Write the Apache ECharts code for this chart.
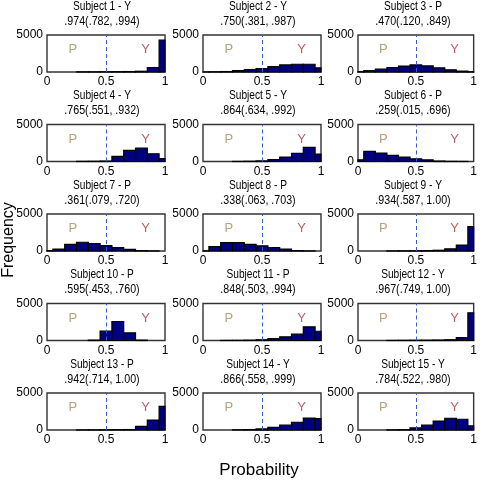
<!DOCTYPE html>
<html>
<head>
<meta charset="utf-8">
<script src="https://cdn.jsdelivr.net/npm/echarts@6/dist/echarts.min.js"></script>
<style>html,body{margin:0;padding:0;background:#fff}#c{width:480px;height:482px}</style>
</head>
<body>
<div id="c"></div>
<script>
const binCenters = [0, 0.1, 0.2, 0.3, 0.4, 0.5, 0.6, 0.7, 0.8, 0.9, 1.0];
const subjectLabels = ['Subject 1 - Y','Subject 2 - Y','Subject 3 - P','Subject 4 - Y','Subject 5 - Y','Subject 6 - P','Subject 7 - P','Subject 8 - P','Subject 9 - Y','Subject 10 - P','Subject 11 - P','Subject 12 - Y','Subject 13 - P','Subject 14 - Y','Subject 15 - Y'];
const intervalLabels = ['.974(.782, .994)','.750(.381, .987)','.470(.120, .849)','.765(.551, .932)','.864(.634, .992)','.259(.015, .696)','.361(.079, .720)','.338(.063, .703)','.934(.587, 1.00)','.595(.453, .760)','.848(.503, .994)','.967(.749, 1.00)','.942(.714, 1.00)','.866(.558, .999)','.784(.522, .980)'];
const counts1  = [0, 0, 0, 20, 20, 30, 40, 60, 100, 600, 4300];
const counts2  = [10, 30, 60, 180, 320, 450, 730, 950, 1050, 1050, 550];
const counts3  = [60, 200, 380, 600, 800, 950, 820, 560, 300, 120, 30];
const counts4  = [0, 0, 0, 20, 30, 60, 700, 1500, 1800, 1050, 400];
const counts5  = [0, 0, 0, 10, 30, 80, 250, 600, 1100, 1900, 1000];
const counts6  = [230, 1360, 1130, 820, 590, 360, 230, 60, 20, 10, 0];
const counts7  = [50, 270, 900, 1180, 1000, 730, 450, 230, 40, 10, 0];
const counts8  = [20, 600, 1150, 1150, 900, 700, 450, 250, 50, 10, 0];
const counts9  = [0, 0, 0, 10, 20, 30, 50, 100, 300, 800, 3300];
const counts10 = [0, 0, 0, 0, 50, 1260, 2570, 1030, 50, 0, 0];
const counts11 = [0, 0, 10, 20, 40, 100, 250, 500, 850, 1850, 1250];
const counts12 = [0, 0, 0, 10, 20, 30, 40, 60, 100, 400, 3750];
const counts13 = [0, 0, 0, 10, 20, 30, 40, 60, 500, 1350, 3200];
const counts14 = [0, 0, 0, 20, 50, 150, 350, 650, 1050, 1600, 1550];
const counts15 = [0, 0, 0, 20, 40, 280, 650, 1210, 1590, 1450, 560];
const allCounts = [counts1,counts2,counts3,counts4,counts5,counts6,counts7,counts8,counts9,counts10,counts11,counts12,counts13,counts14,counts15];
const xTicks = [0, 0.5, 1];
const yTicks = [0, 5000];
const groupLabels = ['P', 'Y'];
const labelPositions = [0.22, 0.835];
const cutoff = 0.5;

const chart = echarts.init(document.getElementById('c'));
const FONT = '"Liberation Sans",Arial,sans-serif';
const colLeft = [47, 203, 358];
const W = 118, H = 37;
const rowTop = [35, 124.5, 214, 303.5, 393];

const grids = [], xAxes = [], yAxes = [], series = [], graphics = [];
allCounts.forEach((counts, i) => {
  const r = Math.floor(i / 3), c = i % 3;
  const left = colLeft[c], top = rowTop[r];
  grids.push({left: left, top: top, width: W, height: H, show: true, borderColor: '#333', borderWidth: 1.4, backgroundColor: '#fff'});
  xAxes.push({type: 'value', gridIndex: i, min: 0, max: 1, interval: 0.5,
    axisLine: {show: false}, axisTick: {show: false}, splitLine: {show: false},
    axisLabel: {margin: 4, color: '#000', fontFamily: FONT, fontSize: 12,
      formatter: v => xTicks.includes(v) ? String(v) : ''}});
  yAxes.push({type: 'value', gridIndex: i, min: 0, max: 5000, interval: 5000,
    axisLine: {show: false}, axisTick: {show: false}, splitLine: {show: false},
    axisLabel: {margin: 4, color: '#000', fontFamily: FONT, fontSize: 12,
      formatter: v => yTicks.includes(v) ? String(v) : ''}});
  const data = binCenters.map((b, k) => [Math.max(0, b - 0.05), Math.min(1, b + 0.05), counts[k]]);
  series.push({
    type: 'custom', xAxisIndex: i, yAxisIndex: i, data: data, silent: true,
    renderItem: function (params, api) {
      const h = api.value(2);
      if (!h) return null;
      const p0 = api.coord([api.value(0), 0]);
      const p1 = api.coord([api.value(1), h]);
      return {type: 'rect', shape: {x: p0[0], y: p1[1], width: p1[0] - p0[0], height: p0[1] - p1[1]},
        style: {fill: '#000080', stroke: '#000', lineWidth: 1.2}};
    },
    markLine: {silent: true, symbol: 'none', label: {show: false},
      lineStyle: {color: '#3a5bd0', type: [4, 3], width: 1},
      data: [{xAxis: cutoff}]}
  });
  series.push({
    type: 'scatter', xAxisIndex: i, yAxisIndex: i, symbolSize: 0, silent: true,
    data: groupLabels.map((g, k) => ({value: [labelPositions[k], 3000], name: g,
      label: {color: g === 'P' ? '#a8895e' : '#a33a3f'}})),
    label: {show: true, formatter: p => p.name, position: 'inside', fontFamily: FONT, fontSize: 13}
  });
  const cx = left + W / 2 - 4;
  graphics.push({type: 'text', x: cx, y: top - 29, scaleX: 0.78, style: {text: subjectLabels[i], textAlign: 'center', textVerticalAlign: 'middle', font: '13px ' + FONT, fill: '#000'}});
  graphics.push({type: 'text', x: cx, y: top - 14, scaleX: 0.82, style: {text: intervalLabels[i], textAlign: 'center', textVerticalAlign: 'middle', font: '13px ' + FONT, fill: '#000'}});
});
graphics.push({type: 'text', x: 259, y: 470, style: {text: 'Probability', textAlign: 'center', textVerticalAlign: 'middle', font: '17px ' + FONT, fill: '#000'}});
graphics.push({type: 'text', x: 9, y: 240, rotation: Math.PI / 2, style: {text: 'Frequency', textAlign: 'center', textVerticalAlign: 'middle', font: '16px ' + FONT, fill: '#000'}});

chart.setOption({animation: false, grid: grids, xAxis: xAxes, yAxis: yAxes, series: series, graphic: graphics});
</script>
</body>
</html>
